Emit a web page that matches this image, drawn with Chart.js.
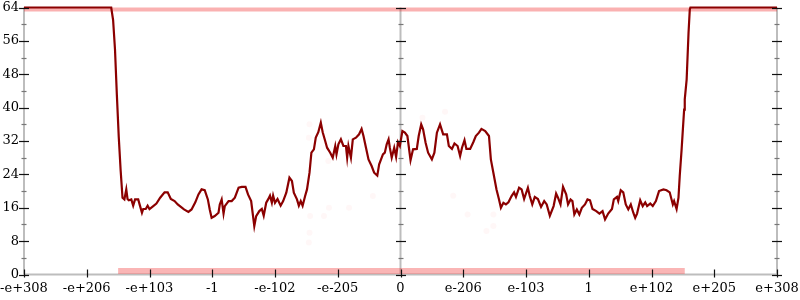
<!DOCTYPE html>
<html>
<head>
<meta charset="utf-8">
<script src="https://cdn.jsdelivr.net/npm/chart.js@4"></script>
<style>
html,body{margin:0;padding:0;background:#fff;}
#wrap{width:800px;height:300px;}
</style>
</head>
<body>
<div id="wrap"><canvas id="c" width="800" height="300"></canvas></div>
<script>
// Tick positions and labels
const xTickPositions = [-6,-5,-4,-3,-2,-1,0,1,2,3,4,5,6];
const xTickLabels = ['-e+308','-e+206','-e+103','-1','-e-102','-e-205','0','e-206','e-103','1','e+102','e+205','e+308'];
const yTickLabels = [0,8,16,24,32,40,48,56,64];
const yMinorTicks = [4,12,20,28,36,44,52,60];

// Main series (dark red line)
const lineX = [-6.00,-4.61,-4.58,-4.55,-4.52,-4.49,-4.46,-4.43,-4.40,-4.37,-4.35,-4.33,-4.29,-4.26,-4.23,-4.18,-4.15,-4.12,-4.10,-4.06,-4.03,-4.00,-3.94,-3.89,-3.83,-3.76,-3.71,-3.66,-3.60,-3.55,-3.50,-3.45,-3.38,-3.33,-3.27,-3.22,-3.17,-3.12,-3.07,-3.04,-3.01,-2.96,-2.90,-2.88,-2.85,-2.82,-2.80,-2.74,-2.69,-2.64,-2.58,-2.53,-2.47,-2.43,-2.38,-2.35,-2.33,-2.30,-2.25,-2.21,-2.18,-2.14,-2.11,-2.08,-2.05,-2.03,-2.00,-1.96,-1.91,-1.87,-1.82,-1.77,-1.73,-1.70,-1.65,-1.62,-1.59,-1.56,-1.52,-1.49,-1.45,-1.42,-1.38,-1.35,-1.31,-1.27,-1.24,-1.20,-1.17,-1.12,-1.08,-1.04,-1.02,-0.99,-0.95,-0.91,-0.87,-0.85,-0.83,-0.79,-0.76,-0.71,-0.66,-0.62,-0.59,-0.55,-0.51,-0.46,-0.42,-0.37,-0.34,-0.28,-0.25,-0.22,-0.19,-0.17,-0.14,-0.10,-0.07,-0.04,-0.01,0.03,0.07,0.11,0.16,0.20,0.26,0.29,0.33,0.36,0.40,0.44,0.50,0.54,0.58,0.63,0.68,0.74,0.77,0.82,0.86,0.91,0.95,0.98,1.02,1.05,1.11,1.16,1.20,1.25,1.29,1.35,1.41,1.44,1.48,1.53,1.57,1.60,1.64,1.68,1.72,1.77,1.81,1.84,1.89,1.93,1.97,2.03,2.06,2.10,2.14,2.19,2.24,2.29,2.33,2.38,2.44,2.48,2.51,2.55,2.59,2.64,2.67,2.71,2.74,2.77,2.81,2.85,2.89,2.94,2.98,3.02,3.06,3.12,3.17,3.22,3.26,3.31,3.37,3.40,3.45,3.47,3.51,3.55,3.59,3.63,3.67,3.71,3.74,3.77,3.82,3.86,3.90,3.93,3.98,4.02,4.07,4.12,4.19,4.24,4.29,4.34,4.36,4.40,4.43,4.45,4.48,4.50,4.52,4.53,4.56,4.59,4.61,4.62,6.00];
const lineY = [64,64,61,54,43,33,25,18.4,18.0,20.4,18.1,17.8,18.0,16.5,18.0,18.0,16.4,14.8,15.7,15.7,16.5,15.7,16.4,17.0,18.4,19.7,19.7,18.1,17.6,16.8,16.2,15.6,15.0,15.6,17.3,19.2,20.4,20.2,18.0,15.6,13.6,14.0,14.8,16.8,18.0,14.6,16.4,17.6,17.6,18.4,20.8,21.0,21.0,19.2,17.6,14.0,11.6,14.0,15.2,15.7,14.1,17.2,18.0,18.9,17.2,18.9,17.2,18.1,16.5,17.6,19.6,23.2,22.4,19.6,18.0,16.5,17.6,16.5,18.8,20.4,24.4,29.2,30.0,32.8,34.1,36.4,34.1,32.0,30.4,29.2,28.0,30.8,28.8,31.2,32.4,30.8,30.8,28.0,30.8,28.0,32.4,32.8,33.6,34.9,33.2,30.4,27.6,26.0,24.4,23.7,26.4,28.8,29.2,31.2,32.4,30.4,28.0,30.4,28.2,31.7,30.8,34.4,34.0,33.2,27.4,30.0,30.1,33.2,36.0,34.8,31.6,29.2,27.6,29.2,34.0,36.0,33.6,33.6,30.8,30.1,31.4,30.8,28.4,30.4,32.2,30.1,30.1,31.7,33.2,34.0,34.9,34.4,33.2,27.6,24.4,20.4,18.0,16.0,17.2,16.8,17.3,18.8,19.7,18.6,20.8,20.4,18.1,20.8,18.8,16.8,18.6,18.1,16.2,17.6,16.8,14.1,16.4,19.4,18.4,16.8,21.0,19.2,16.8,18.0,17.6,14.4,15.6,14.4,16.0,16.8,18.0,17.8,15.7,15.2,14.6,15.2,13.2,14.6,15.7,18.0,18.6,17.6,20.2,19.7,16.8,15.6,16.8,14.8,13.6,14.6,17.8,16.4,17.3,16.4,17.0,16.4,17.6,20.0,20.4,20.2,19.7,16.8,17.6,15.7,18.4,23.6,30.0,34.8,39.5,42.0,46.7,57.9,63.5,64,64];

// Dense translucent red bands (top and bottom)
const topBandX = [-6, 6];
const topBandY = [63.5, 63.5];
const bottomBandX = [-4.50, 4.53];
const bottomBandY = [0.85, 0.85];

// Faint scattered points
const faintX = [-1.45,-1.46,-1.15,-0.44,-1.44,-1.14,-0.82,-1.22,-1.45,-1.46,0.35,0.71,0.84,1.07,1.48,1.48,1.37];
const faintY = [36,32.8,27.2,18.8,14,16,16,14,10,7.7,37.6,39,18.9,14.4,14.4,11.6,10.4];

const toPts = (xs, ys) => xs.map((x, i) => ({x: x, y: ys[i]}));

const axesPlugin = {
  id: 'axesPlugin',
  beforeDatasetsDraw(chart) {
    const ctx = chart.ctx;
    const xs = chart.scales.x, ys = chart.scales.y;
    const y0 = ys.getPixelForValue(0), yTop = ys.getPixelForValue(64);
    ctx.save();
    ctx.strokeStyle = '#bdbdbd';
    ctx.lineWidth = 2;
    ctx.beginPath();
    ctx.moveTo(xs.getPixelForValue(-6), y0);
    ctx.lineTo(xs.getPixelForValue(6), y0);
    ctx.stroke();
    [-6, 0, 6].forEach(v => {
      const px = xs.getPixelForValue(v);
      ctx.beginPath();
      ctx.moveTo(px, yTop);
      ctx.lineTo(px, y0);
      ctx.stroke();
    });
    ctx.restore();
  },
  afterDatasetsDraw(chart) {
    const ctx = chart.ctx;
    const xs = chart.scales.x, ys = chart.scales.y;
    const y0 = ys.getPixelForValue(0);
    ctx.save();
    ctx.lineWidth = 1.2;
    [-6, 0, 6].forEach(v => {
      const px = Math.round(xs.getPixelForValue(v));
      ctx.strokeStyle = '#111';
      yTickLabels.forEach(t => {
        const py = Math.round(ys.getPixelForValue(t)) + 0.5;
        ctx.beginPath(); ctx.moveTo(px - 5, py); ctx.lineTo(px + 5, py); ctx.stroke();
      });
      ctx.strokeStyle = '#777';
      yMinorTicks.forEach(t => {
        const py = Math.round(ys.getPixelForValue(t)) + 0.5;
        ctx.beginPath(); ctx.moveTo(px - 2.5, py); ctx.lineTo(px + 2.5, py); ctx.stroke();
      });
    });
    ctx.strokeStyle = '#111';
    xTickPositions.forEach(v => {
      const px = Math.round(xs.getPixelForValue(v)) + 0.5;
      ctx.beginPath(); ctx.moveTo(px, y0 - 5); ctx.lineTo(px, y0 + 3); ctx.stroke();
    });
    ctx.restore();
  }
};

new Chart(document.getElementById('c'), {
  type: 'scatter',
  data: {
    datasets: [
      {
        data: toPts(lineX, lineY),
        showLine: true,
        borderColor: '#8b0000',
        borderWidth: 2.2,
        pointRadius: 0,
        tension: 0,
        clip: 4
      },
      {
        data: toPts(topBandX, topBandY),
        showLine: true,
        borderColor: 'rgba(240,40,40,0.36)',
        borderWidth: 4,
        pointRadius: 0,
        clip: 6
      },
      {
        data: toPts(bottomBandX, bottomBandY),
        showLine: true,
        borderColor: 'rgba(240,50,50,0.36)',
        borderWidth: 6,
        pointRadius: 0
      },
      {
        data: toPts(faintX, faintY),
        showLine: false,
        pointRadius: 3,
        borderWidth: 0,
        backgroundColor: 'rgba(255,60,60,0.045)'
      }
    ]
  },
  options: {
    responsive: false,
    animation: false,
    devicePixelRatio: 1,
    layout: { padding: { top: 7.5, right: 23, left: 0, bottom: 0 } },
    plugins: { legend: { display: false }, tooltip: { enabled: false } },
    scales: {
      x: {
        type: 'linear', min: -6, max: 6,
        afterBuildTicks: s => { s.ticks = xTickPositions.map(v => ({ value: v })); },
        afterFit: s => { s.height = 25.5; s.paddingLeft = 0; s.paddingRight = 0; },
        ticks: {
          callback: (v, i) => xTickLabels[i],
          font: { family: 'DejaVu Serif', size: 13 },
          color: '#000', padding: 6, maxRotation: 0, autoSkip: false
        },
        grid: { display: false, drawTicks: false },
        border: { display: false }
      },
      y: {
        type: 'linear', min: 0, max: 64,
        afterBuildTicks: s => { s.ticks = yTickLabels.map(v => ({ value: v })); },
        afterFit: s => { s.width = 24; s.paddingTop = 0; s.paddingBottom = 0; },
        ticks: {
          callback: (v, i) => String(yTickLabels[i]),
          font: { family: 'DejaVu Serif', size: 13 },
          color: '#000', padding: 5
        },
        grid: { display: false, drawTicks: false },
        border: { display: false }
      }
    }
  },
  plugins: [axesPlugin]
});
</script>
</body>
</html>
